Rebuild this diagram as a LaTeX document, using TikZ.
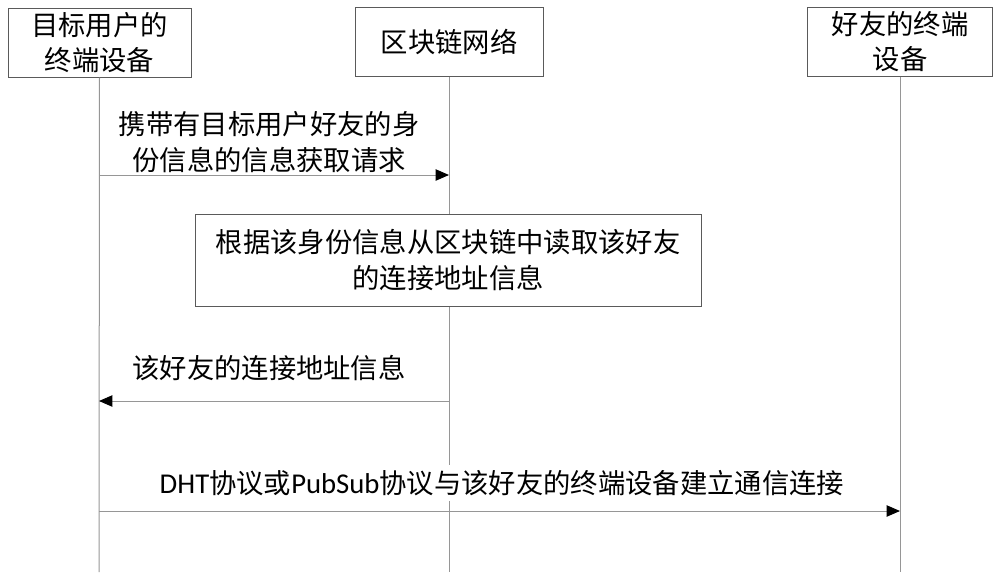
\documentclass[tikz,border=0pt]{standalone}
\usepackage{fontspec}
\setmainfont{Noto Sans CJK SC}
\newfontfamily\latinfont{Carlito}[Scale=1.05]
\usetikzlibrary{arrows.meta}

\definecolor{lifegray}{RGB}{150,150,150}
\definecolor{boxgray}{RGB}{90,90,90}

\tikzset{every picture/.style={line width=0.75pt}}
\tikzset{
	msgfont/.style={font=\fontsize{20.5pt}{26.5pt}\selectfont},
	actorbox/.style={draw=boxgray, fill=white, align=center, msgfont, inner sep=0.75pt, minimum height=51.75pt},
	lifeline/.style={draw=lifegray},
	msgline/.style={draw=lifegray, -{Triangle[length=10pt,width=8.5pt,color=black]}},
	msglabel/.style={align=center, msgfont, inner sep=0.75pt}
}

\begin{document}
\begin{tikzpicture}[x=0.75pt,y=0.75pt,yscale=-1,xscale=1]
	\useasboundingbox (0,0) rectangle (1000,579);
	
	% Actor boxes
	\node [actorbox, minimum width=137.25pt] (user) at (99.5,42.5) {目标用户的\\终端设备};
	\node [actorbox, minimum width=141pt] (chain) at (449,41.5) {区块链网络};
	\node [actorbox, minimum width=138.75pt] (friend) at (900,41.5) {好友的终端\\设备};
	
	% Lifeline ends
	\coordinate (userEnd) at (99,572);
	\coordinate (chainEnd) at (449,572);
	\coordinate (friendEnd) at (900,572);
	%Straight Lines
	\draw [lifeline] (user.south) -- (userEnd);
	\draw [lifeline] (chain.south) -- (chainEnd);
	\draw [lifeline] (friend.south) -- (friendEnd);
	
	% Message end points
	\coordinate (reqFrom) at (99,175);
	\coordinate (reqTo) at (449,175);
	\coordinate (addrFrom) at (449,401);
	\coordinate (addrTo) at (99,401);
	\coordinate (linkFrom) at (99,511);
	\coordinate (linkTo) at (900,511);
	
	%Straight Lines [request]
	\draw [msgline] (reqFrom) -- (reqTo);
	% Text Node
	\node [msglabel] (reqText) at (269,142) {携带有目标用户好友的身\\份信息的信息获取请求};
	
	% Process box
	\node [draw=boxgray, fill=white, align=center, msgfont, inner sep=0.75pt, minimum width=379.5pt, minimum height=69pt] (readBox) at (448,260) {根据该身份信息从区块链中读取该好友\\的连接地址信息};
	
	%Straight Lines [reply]
	\draw [msgline] (addrFrom) -- (addrTo);
	% Text Node
	\node [msglabel] (addrText) at (269,368) {该好友的连接地址信息};
	
	%Straight Lines [connect]
	\draw [msgline] (linkFrom) -- (linkTo);
	% Text Node
	\node [msglabel, fill=white, inner sep=4pt] (linkText) at (502,483) {{\latinfont DHT}协议或{\latinfont PubSub}协议与该好友的终端设备建立通信连接};
	
\end{tikzpicture}
\end{document}
